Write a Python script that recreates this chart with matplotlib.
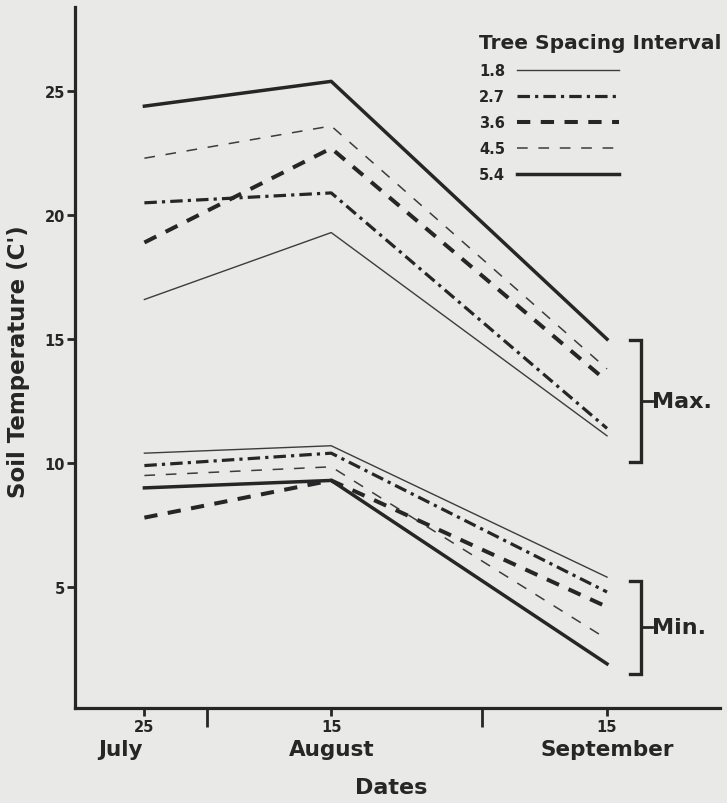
import matplotlib
matplotlib.use('Agg')
import matplotlib.pyplot as plt
import matplotlib.transforms as mtransforms

plt.rcParams['font.family'] = ['DejaVu Sans']
plt.rcParams['font.weight'] = 'bold'

# --- Data ---
# sampling dates as day-of-year: 25 July, 15 August, 15 September
DATES = [206, 227, 258]
DATE_NUMS = ['25', '15', '15']
MONTHS = ['July', 'August', 'September']
MONTH_BREAKS = [213, 244]          # 1 Aug, 1 Sep (unlabelled marks)

SPACINGS = ['1.8', '2.7', '3.6', '4.5', '5.4']

MAX_18 = [16.6, 19.3, 11.1]
MAX_27 = [20.5, 20.9, 11.4]
MAX_36 = [18.9, 22.7, 13.3]
MAX_45 = [22.3, 23.6, 13.8]
MAX_54 = [24.4, 25.4, 15.0]

MIN_18 = [10.4, 10.7, 5.4]
MIN_27 = [9.9, 10.4, 4.8]
MIN_36 = [7.8, 9.3, 4.2]
MIN_45 = [9.5, 9.85, 2.9]
MIN_54 = [9.0, 9.3, 1.9]

MAX_RANGE = [14.95, 10.05]
MIN_RANGE = [5.25, 1.5]

Y_TICKS = [5, 10, 15, 20, 25]

BG = '#e9e9e7'
INK = '#262626'

styles = {
    '1.8': dict(lw=1.0, ls='-', color='#3c3c3c'),
    '2.7': dict(lw=2.3, ls=(0, (3.9, 1.6, 1.0, 1.6)), color=INK),
    '3.6': dict(lw=2.9, ls=(0, (3.3, 2.6)), color=INK),
    '4.5': dict(lw=1.1, ls=(0, (7, 7)), color='#3c3c3c'),
    '5.4': dict(lw=2.5, ls='-', color=INK),
}

max_series = [MAX_18, MAX_27, MAX_36, MAX_45, MAX_54]
min_series = [MIN_18, MIN_27, MIN_36, MIN_45, MIN_54]

fig = plt.figure(figsize=(7.27, 8.04), dpi=100, facecolor=BG)
ax = fig.add_axes([75 / 727, 1 - 709 / 804, 645 / 727, 701 / 804])
ax.set_facecolor(BG)

handles = []
for sp, ymax, ymin in zip(SPACINGS, max_series, min_series):
    h, = ax.plot(DATES, ymax, label=sp, **styles[sp])
    ax.plot(DATES, ymin, **styles[sp])
    handles.append(h)

ax.set_xlim(198.2, 270.7)
ax.set_ylim(0.12, 28.4)

for s in ['top', 'right']:
    ax.spines[s].set_visible(False)
for s in ['left', 'bottom']:
    ax.spines[s].set_linewidth(2.3)
    ax.spines[s].set_color(INK)

ax.set_yticks(Y_TICKS)
ax.set_yticklabels([str(v) for v in Y_TICKS], fontsize=10.5, fontweight='bold', color=INK)
ax.tick_params(axis='y', direction='out', length=6, width=2, color=INK, pad=1)

ax.set_xticks(DATES)
ax.set_xticklabels(DATE_NUMS, fontsize=10.5, fontweight='bold', color=INK)
ax.set_xticks(MONTH_BREAKS, minor=True)
ax.tick_params(axis='x', which='major', direction='out', length=6, width=2, color=INK, pad=2)
ax.tick_params(axis='x', which='minor', direction='out', length=14, width=2, color=INK)

# month names under the day numbers
month_offsets = [-24, 0, 0]
for d, m, off in zip(DATES, MONTHS, month_offsets):
    ax.annotate(m, xy=(d, 0), xycoords=('data', 'axes fraction'),
                xytext=(off, -41), textcoords='offset pixels',
                ha='center', va='center', fontsize=15.5, fontweight='bold', color=INK)

ax.set_xlabel('Dates', fontsize=16, fontweight='bold', color=INK)
ax.xaxis.set_label_coords(0.49, -0.098)
ax.set_ylabel("Soil Temperature (C')", fontsize=16.5, fontweight='bold', color=INK)
ax.yaxis.set_label_coords(-0.07, 0.495)

# Max / Min brackets (x in axes fraction, y in data)
trans = mtransforms.blended_transform_factory(ax.transAxes, ax.transData)
for (top, bot), lab in [(MAX_RANGE, 'Max.'), (MIN_RANGE, 'Min.')]:
    xv, xl = 0.877, 0.860
    ax.plot([xl, xv, xv, xl], [top, top, bot, bot], transform=trans,
            color=INK, lw=2.4, clip_on=False, solid_joinstyle='miter')
    mid = (top + bot) / 2
    ax.plot([xv, 0.894], [mid, mid], transform=trans, color=INK, lw=2, clip_on=False)
    ax.text(0.895, mid, lab, transform=trans, ha='left', va='center',
            fontsize=16, fontweight='bold', color=INK)

leg = ax.legend(handles=handles, title='Tree Spacing Interval',
                loc='upper left', bbox_to_anchor=(479 / 727, 1 - 34 / 804),
                bbox_transform=fig.transFigure, frameon=False,
                markerfirst=False, handlelength=7.0, handletextpad=0.8,
                labelspacing=0.75, borderpad=0, borderaxespad=0,
                prop={'weight': 'bold', 'size': 10.5},
                title_fontproperties={'weight': 'bold', 'size': 14.5},
                alignment='left')
for t in leg.get_texts():
    t.set_color(INK)
leg.get_title().set_color(INK)

fig.savefig('out.png', dpi=100, facecolor=BG)
